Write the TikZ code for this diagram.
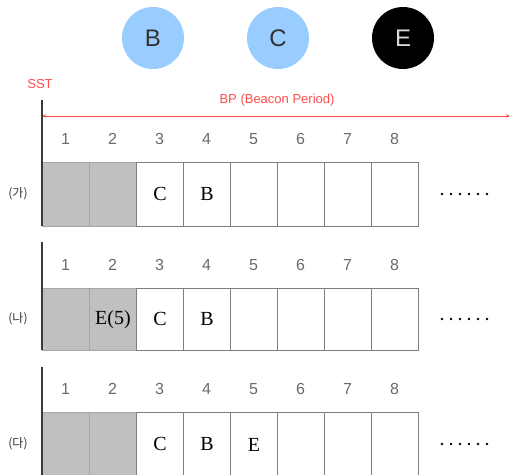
\documentclass[tikz,border=0pt]{standalone}
\usepackage{fontspec}
\setmainfont{Liberation Sans}
\newfontfamily\slotserif{Liberation Serif}
\newfontfamily\krfont{Noto Sans CJK KR}
\usetikzlibrary{arrows.meta}
\definecolor{nodeblue}{HTML}{99CCFF}
\definecolor{slotgray}{HTML}{C0C0C0}
\definecolor{slotline}{HTML}{7F7F7F}
\definecolor{numgray}{HTML}{6A6A6A}
\definecolor{bpred}{HTML}{FF4B4B}
\definecolor{axisdark}{HTML}{3A3A3A}

\begin{document}
\begin{tikzpicture}[x=1pt,y=-1pt,
  station/.style={circle, minimum size=62pt, inner sep=0pt, font=\fontsize{24}{24}\selectfont},
  slot/.style={draw=slotline, line width=0.9pt, fill=white, minimum width=47pt,
    inner sep=0pt, anchor=north west},
  idle/.style={slot, fill=slotgray, draw=slotline!70},
  slottext/.style={font=\slotserif\fontsize{20}{20}\selectfont, text=black},
  slotnum/.style={font=\fontsize{16}{16}\selectfont, text=numgray},
  rowlabel/.style={font=\krfont\fontsize{12}{12}\selectfont, text=black!80},
  bptext/.style={text=bpred, font=\fontsize{13}{13}\selectfont},
  axis/.style={draw=axisdark, line width=1.2pt},
  moredot/.style={fill=black, circle, inner sep=0pt, minimum size=2.8pt}
]
\useasboundingbox (0,0) rectangle (510,474);
\clip (0,0) rectangle (510,474);

% stations
\node[station, fill=nodeblue, text=black!80] (stB) at (153,38) {B};
\node[station, fill=nodeblue, text=black!80] (stC) at (278,38) {C};
\node[station, fill=black, text=white!85!black] (stE) at (403,38) {E};

% beacon period
\node[bptext] (sst) at (40,84) {SST};
\node[bptext] (bplabel) at (277,100) {BP (Beacon Period)};
\coordinate (bpstart) at (42,116);
\coordinate (bpend) at (510,116);
\draw[bpred, line width=0.8pt, {Stealth[length=4pt,width=3.5pt]}-{Stealth[length=4pt,width=3.5pt]}] (bpstart) -- (bpend);

% three slot rows: row / top / height / number line / axis top / label
\foreach \r/\top/\h/\numy/\axtop/\lab in {1/162/64/139/100/(가), 2/288/62/265/242/(나), 3/412/64/389/367/(다)}{
  \foreach \i in {1,...,8}{
    \pgfmathsetmacro{\xl}{42+47*(\i-1)}
    \ifnum\i<3
      \node[idle, minimum height=\h pt] (r\r s\i) at (\xl,\top) {};
    \else
      \node[slot, minimum height=\h pt] (r\r s\i) at (\xl,\top) {};
    \fi
    \node[slotnum] (r\r n\i) at (\xl+23.5,\numy) {\i};
  }
  \coordinate (r\r top) at (42,\axtop);
  \coordinate (r\r bot) at (42,\top+\h);
  \draw[axis] (r\r top) -- (r\r bot);
  \node[rowlabel] (r\r lab) at (18,\top+\h/2) {\lab};
  \foreach \k in {0,...,5}{
    \node[moredot] (r\r d\k) at (442+9*\k,\top+\h/2) {};
  }
}

% slot contents
\node[slottext] at (r1s3) {C};
\node[slottext] at (r1s4) {B};
\node[slottext] at (r2s2) {E(5)};
\node[slottext] at (r2s3) {C};
\node[slottext] at (r2s4) {B};
\node[slottext] at (r3s3) {C};
\node[slottext] at (r3s4) {B};
\node[slottext] at (r3s5) {E};
\end{tikzpicture}
\end{document}
